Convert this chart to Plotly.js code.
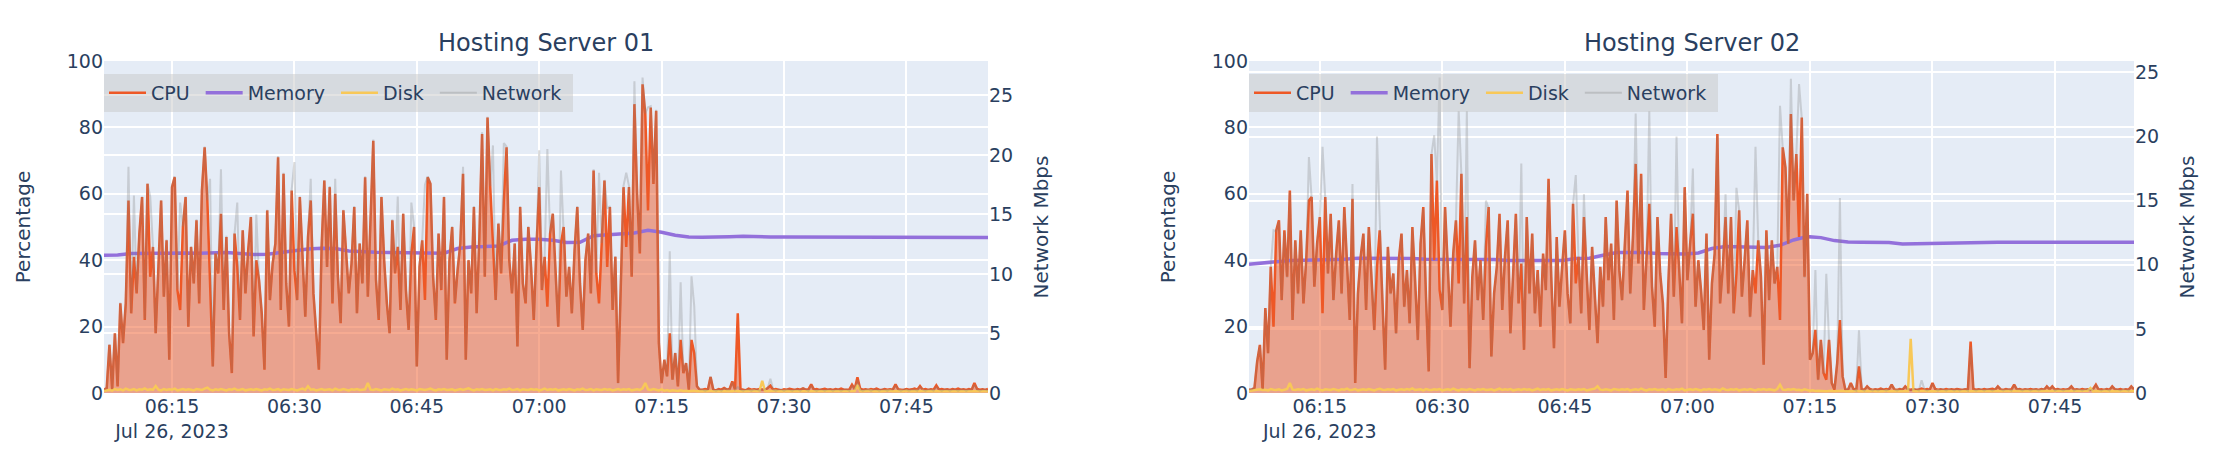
<!DOCTYPE html>
<html>
<head>
<meta charset="utf-8">
<script src="https://cdn.plot.ly/plotly-3.0.1.min.js"></script>
<style>
  body { margin: 0; background: white; }
  #chart { width: 2236px; height: 468px; }
</style>
</head>
<body>
<div id="chart"></div>
<script>
// samples every 20 s, memory every 100 s
const server1Start = '2023-07-26 06:06:40';
const server2Start = '2023-07-26 06:06:20';
const sampleStep = 20;
const memoryStep = 100;

const cpu01 = [
  1, 1.5, 14.5, 1, 18, 2, 27, 15, 27, 58,
  24, 41, 30, 48, 59, 22, 63, 35, 44, 18,
  38, 58, 29, 46, 10, 62, 65, 31, 25, 50,
  59, 20, 44, 33, 52, 27, 61, 74, 58, 30,
  8, 42, 36, 54, 25, 47, 18, 6, 48, 38,
  22, 49, 30, 43, 53, 17, 40, 34, 24, 7,
  55, 28, 39, 45, 71, 25, 66, 33, 20, 61,
  37, 28, 59, 41, 23, 47, 58, 30, 19, 7,
  44, 64, 38, 62, 27, 60, 35, 21, 55, 43,
  30, 39, 56, 24, 45, 33, 65, 29, 50, 76,
  34, 22, 59, 40, 27, 18, 52, 36, 44, 25,
  54, 31, 19, 42, 50, 8, 38, 46, 28, 65,
  63, 35, 22, 48, 31, 59, 10, 40, 50, 27,
  37, 45, 66, 10, 40, 30, 56, 24, 47, 78,
  35, 83, 62, 44, 28, 51, 36, 58, 74, 40,
  30, 45, 14, 56, 33, 27, 50, 38, 22, 44,
  62, 31, 41, 26, 48, 54, 35, 20, 45, 50,
  29, 38, 24, 43, 56, 33, 19, 40, 48, 30,
  67, 36, 27, 45, 64, 38, 56, 25, 41, 3,
  30, 62, 44, 62, 35, 87, 60, 42, 93, 84,
  55, 86, 63, 85, 15, 3, 10, 5, 18, 4,
  12, 2, 16, 6, 9, 1, 16, 12, 2, 1,
  1, 1.2, 1, 4.8, 1, 0.8, 1.2, 1, 1.5, 1,
  1.2, 3.5, 1, 24, 1.2, 1, 0.8, 1.3, 1, 1.1,
  1, 1.2, 1, 0.9, 1.5, 2.2, 1, 1.2, 1, 0.8,
  1.1, 1, 1.3, 1, 0.9, 1.2, 1, 1.4, 1, 1.1,
  2.6, 1, 1.2, 0.9, 1, 1.3, 1, 1.1, 0.9, 1.2,
  1, 1.3, 1, 1.1, 1, 2.5, 1.2, 4.7, 1.3, 1,
  1.1, 0.9, 1.2, 1, 1.3, 1, 0.9, 1.2, 1, 1.1,
  1, 2.6, 1.1, 1, 0.9, 1.2, 1, 1.1, 1.3, 1,
  2.1, 1, 1.2, 0.9, 1.1, 1, 2.3, 1, 1.2, 1,
  1.1, 0.9, 1.2, 1, 1.3, 1, 1.1, 0.9, 1.2, 1,
  3, 1.2, 1, 1.1, 0.9, 1.2
];

const network01 = [
  0.3, 0.4, 4.1, 0.3, 5.0, 0.6, 7.6, 4.2, 7.6, 19,
  6.7, 16.6, 8.4, 13.4, 16.5, 6.2, 17.6, 16.5, 12.3, 5,
  10.6, 16.2, 8.1, 12.9, 2.8, 17.4, 18.2, 8.7, 16, 14,
  16.5, 5.6, 12.3, 9.2, 14.6, 7.6, 17.1, 20.7, 16.2, 18,
  2.2, 11.8, 10.1, 18.8, 7, 13.2, 5, 1.7, 13.4, 16,
  6.2, 13.7, 8.4, 12, 14.8, 4.8, 15, 9.5, 6.7, 2,
  15.4, 7.8, 10.9, 12.6, 19.9, 7, 18.5, 9.2, 5.6, 17.1,
  19.4, 7.8, 16.5, 11.5, 6.4, 13.2, 18, 8.4, 5.3, 2,
  12.3, 17.9, 10.6, 17.4, 7.6, 18, 9.8, 5.9, 15.4, 12,
  8.4, 10.9, 15.7, 6.7, 12.6, 9.2, 18.2, 8.1, 14, 21.3,
  9.5, 6.2, 16.5, 11.2, 7.6, 5, 14.6, 10.1, 16.5, 7,
  15.1, 8.7, 5.3, 16, 14, 2.2, 10.6, 12.9, 17.5, 18.2,
  17.6, 9.8, 6.2, 13.4, 8.7, 16.5, 2.8, 11.2, 14, 7.6,
  10.4, 12.6, 19, 2.8, 11.2, 8.4, 15.7, 6.7, 13.2, 21.9,
  9.8, 23.2, 17.4, 20.8, 7.8, 14.3, 10.1, 21, 20.7, 11.2,
  8.4, 12.6, 3.9, 15.7, 9.2, 7.6, 14, 10.6, 6.2, 12.3,
  20.4, 8.7, 11.5, 20.5, 13.4, 15.1, 9.8, 5.6, 18.7, 14,
  8.1, 10.6, 6.7, 12, 15.7, 9.2, 5.3, 11.2, 13.4, 8.4,
  18.8, 10.1, 18.5, 12.6, 17.9, 15.5, 15.7, 7, 11.5, 0.8,
  8.4, 17.4, 18.5, 17.4, 9.8, 26.2, 16.8, 11.8, 26.5, 23.5,
  24, 24.1, 17.6, 23.8, 4.2, 0.8, 2.8, 1.4, 11.9, 1.1,
  3.4, 0.6, 9.3, 1.7, 2.5, 0.3, 9.8, 7.3, 0.6, 0.3,
  0.3, 0.2, 0.3, 1.4, 0.3, 0.2, 0.3, 0.2, 0.4, 0.3,
  0.3, 0.9, 0.3, 0.5, 0.3, 0.2, 0.3, 0.3, 0.2, 0.3,
  0.3, 0.2, 0.3, 0.3, 0.4, 1.2, 0.3, 0.2, 0.3, 0.3,
  0.2, 0.3, 0.3, 0.2, 0.3, 0.3, 0.2, 0.4, 0.3, 0.2,
  0.6, 0.3, 0.2, 0.3, 0.3, 0.2, 0.3, 0.3, 0.2, 0.3,
  0.3, 0.2, 0.3, 0.3, 0.2, 0.6, 0.3, 1.1, 0.3, 0.2,
  0.3, 0.3, 0.2, 0.3, 0.3, 0.2, 0.3, 0.3, 0.2, 0.3,
  0.3, 0.6, 0.3, 0.2, 0.3, 0.3, 0.2, 0.3, 0.3, 0.2,
  0.5, 0.3, 0.2, 0.3, 0.3, 0.2, 0.5, 0.3, 0.2, 0.3,
  0.3, 0.2, 0.3, 0.3, 0.2, 0.3, 0.3, 0.2, 0.3, 0.3,
  0.7, 0.3, 0.2, 0.3, 0.3, 0.2
];

const disk01 = [
  0.6, 0.8, 1, 0.7, 1.2, 0.9, 1.1, 0.8, 1.3, 1,
  0.9, 1.2, 0.8, 1.1, 1, 1.4, 0.9, 1.1, 1, 2.1,
  1, 0.8, 1.2, 0.9, 1.1, 1, 1.3, 0.8, 1, 1.2,
  0.9, 1.1, 1, 0.8, 1.2, 1, 0.9, 1.3, 1.6, 1,
  0.8, 1.1, 0.9, 1.2, 1, 0.8, 1.1, 1, 1.3, 0.9,
  1, 1.2, 0.8, 1, 1.1, 0.9, 1.2, 1, 0.8, 1.1,
  1, 1.3, 0.9, 1, 1.2, 0.8, 1.1, 1, 0.9, 1.2,
  1, 0.8, 1.1, 1.3, 0.9, 2, 1, 1.1, 0.8, 1,
  1.2, 0.9, 1, 1.1, 0.8, 1.3, 1, 0.9, 1.2, 1,
  0.8, 1.1, 1, 1.2, 0.9, 1, 1.1, 3, 1, 0.9,
  1.2, 1, 0.8, 1.1, 1, 0.9, 1.3, 1, 1.1, 0.8,
  1, 1.2, 0.9, 1.1, 1, 0.8, 1.2, 1, 0.9, 1.1,
  1.3, 1, 0.8, 1.1, 1, 1.2, 0.9, 1, 1.1, 0.8,
  1, 1.2, 0.9, 1.1, 1.4, 1, 0.8, 1.1, 1, 1.2,
  0.9, 1, 1.1, 0.8, 1.2, 1, 0.9, 1.1, 1, 1.3,
  0.9, 1, 1.2, 0.8, 1.1, 1, 0.9, 1.2, 1, 1.1,
  0.8, 1, 1.3, 0.9, 1.1, 1, 1.2, 0.8, 1, 1.1,
  0.9, 1.2, 1, 0.8, 1.1, 1, 1.3, 0.9, 1, 1.2,
  0.8, 1.1, 1, 0.9, 1.2, 1, 1.1, 0.8, 1, 1.2,
  0.9, 1.1, 1, 1.2, 0.8, 1, 1.1, 0.9, 1.4, 3,
  1.1, 0.9, 1.2, 1, 0.8, 1.1, 0.7, 0.9, 0.6, 0.8,
  0.7, 0.6, 0.8, 0.6, 0.7, 0.5, 0.6, 0.7, 0.5, 0.6,
  0.5, 0.6, 0.5, 0.7, 0.5, 0.6, 0.5, 0.5, 0.6, 0.5,
  0.6, 0.5, 0.7, 0.5, 0.6, 0.5, 0.5, 0.6, 0.5, 0.7,
  0.5, 0.6, 3.7, 0.6, 0.5, 0.6, 0.5, 0.7, 0.5, 0.6,
  0.5, 0.6, 0.5, 0.5, 0.7, 0.5, 0.6, 0.5, 0.6, 0.5,
  0.6, 0.5, 0.7, 0.5, 0.6, 0.5, 0.5, 0.6, 0.5, 0.7,
  0.5, 0.6, 0.5, 0.6, 0.5, 0.7, 0.6, 2.4, 0.6, 0.5,
  0.6, 0.5, 0.7, 0.5, 0.6, 0.5, 0.5, 0.6, 0.5, 0.7,
  0.5, 0.6, 0.5, 0.6, 0.5, 0.7, 0.5, 0.6, 0.5, 0.6,
  0.5, 0.7, 0.5, 0.6, 0.5, 0.6, 0.5, 0.5, 0.7, 0.5,
  0.6, 0.5, 0.6, 0.5, 0.7, 0.5, 0.6, 0.5, 0.6, 0.5,
  0.6, 0.5, 0.7, 0.5, 0.6, 0.5
];

const memory01 = [
  41.5, 41.6, 42.0, 42.1, 42.1, 42.2, 42.2, 42.1, 42.2, 42.3,
  42.0, 41.7, 41.8, 42.3, 42.8, 43.4, 43.6, 43.5, 42.8, 42.5,
  42.4, 42.3, 42.3, 42.2, 42.1, 42.1, 43.5, 44.0, 44.1, 44.3,
  46.0, 46.3, 46.3, 46.0, 45.3, 45.4, 47.4, 47.6, 47.8, 48.2,
  49.0, 48.4, 47.5, 47.0, 46.9, 46.9, 47.1, 47.2, 47.0, 47.0,
  47.0, 47.0, 46.9, 46.9, 46.9, 46.9, 46.9, 46.9, 46.9, 46.8,
  46.8, 46.8, 46.8, 46.8, 46.8, 46.8
];

const cpu02 = [
  1, 1, 1.5, 9.5, 14.5, 1, 25.6, 12, 38, 20,
  49, 52, 28, 49, 35, 61, 22, 46, 30, 49,
  27, 40, 58, 59, 32, 45, 53, 24, 59, 36,
  54, 28, 42, 52, 30, 56, 39, 22, 58.5, 3,
  30, 41, 48, 25, 50, 33, 19, 38, 49, 28,
  7, 44, 30, 36, 18, 40, 48, 26, 37, 21,
  50, 34, 16, 45, 56, 29, 6.5, 72, 40, 64,
  31, 25, 56, 38, 20, 42, 52, 33, 66, 27,
  53, 7.5, 35, 46, 28, 40, 22, 44, 56, 11,
  30, 38, 54, 25, 41, 52, 18, 36, 54, 27,
  39, 13, 53, 30, 48, 24, 37, 20, 42, 31,
  64.5, 35, 13.5, 47, 26, 38, 49, 30, 21, 57,
  33, 41, 24, 53, 36, 19, 44, 29, 15, 38,
  26, 53, 34, 45, 22, 58, 37, 28, 43, 61,
  30, 47, 69, 39, 66, 25, 41, 57, 32, 20,
  53, 36, 27, 4.5, 33, 54, 29, 50, 37, 21,
  62, 34, 45, 54, 26, 40, 31, 19, 48, 10,
  33, 42, 78, 27, 38, 53, 30, 53, 24, 36,
  55, 29, 40, 52, 23, 37, 30, 46, 35, 8.5,
  49, 28, 46, 33, 38, 22, 74, 68, 45, 84,
  58, 72, 47, 83, 35, 60, 10, 12, 19, 4,
  16, 6, 4, 16, 3, 1, 9, 22, 5, 1,
  1, 3, 1.2, 1, 8, 1.1, 1, 2, 1.2, 0.9,
  1.1, 1, 1.3, 1, 1.2, 1, 2.5, 1.1, 0.9, 1.2,
  1, 2, 1.1, 1, 1.2, 0.9, 1.1, 1.3, 1, 1.2,
  1, 3, 1.2, 1, 1.1, 0.9, 1.2, 1, 1.1, 1,
  1.2, 1, 0.9, 1.1, 1, 15.5, 1.2, 1, 1.1, 0.9,
  1.2, 1, 1.1, 1.3, 1, 2, 1.1, 0.9, 1.2, 1,
  1.1, 2.5, 1, 1.2, 0.9, 1.1, 1, 1.2, 1, 1.1,
  0.9, 1.2, 1, 2, 1.1, 2, 1, 1.2, 0.9, 1.1,
  1, 1.2, 2, 1, 1.1, 0.9, 1.2, 1, 1.1, 1,
  1.2, 2.5, 1, 1.1, 0.9, 1.2, 1, 2, 1.1, 1,
  1.2, 0.9, 1.1, 1, 2, 1.1
];

const network02 = [
  0.3, 0.3, 0.4, 2.5, 3.7, 0.3, 6.6, 3.1, 9.8, 12.7,
  12.6, 13.4, 7.2, 12.6, 9, 15.7, 5.7, 11.9, 7.7, 12.6,
  7, 10.3, 18.4, 15.2, 8.3, 11.6, 13.7, 19.2, 15.2, 9.3,
  13.9, 7.2, 10.8, 13.4, 7.7, 14.4, 10.1, 5.7, 16.3, 0.8,
  7.7, 10.6, 12.4, 6.5, 12.9, 8.5, 4.9, 20, 12.6, 7.2,
  1.8, 11.4, 7.7, 9.3, 4.6, 10.3, 12.4, 6.7, 9.5, 5.4,
  12.9, 8.8, 4.1, 11.6, 14.4, 7.5, 1.7, 18.6, 20.1, 16.5,
  24.6, 6.5, 14.4, 9.8, 5.2, 10.8, 13.4, 22, 17, 7,
  22, 1.9, 9, 11.9, 7.2, 10.3, 5.7, 15, 14.4, 2.8,
  7.7, 9.8, 13.9, 6.5, 10.6, 13.4, 4.6, 9.3, 13.9, 7,
  17.9, 3.4, 13.7, 7.7, 12.4, 6.2, 9.5, 5.2, 10.8, 8,
  16.6, 9, 3.5, 12.1, 6.7, 9.8, 12.6, 7.7, 5.4, 14.7,
  17, 10.6, 6.2, 15.5, 9.3, 4.9, 11.4, 7.5, 3.9, 9.8,
  6.7, 13.7, 8.8, 11.6, 5.7, 15, 9.5, 7.2, 11.1, 15.7,
  7.7, 12.1, 21.8, 10.1, 17, 6.5, 10.6, 22, 8.3, 5.2,
  13.7, 9.3, 7, 1.2, 8.5, 13.9, 7.5, 20, 9.5, 5.4,
  16, 8.8, 11.6, 17.5, 6.7, 10.3, 8, 4.9, 12.4, 2.6,
  8.5, 10.8, 20.1, 7, 9.8, 15.5, 7.7, 13.7, 6.2, 16,
  14.2, 7.5, 10.3, 13.4, 5.9, 9.5, 19.2, 11.9, 9, 2.2,
  12.6, 7.2, 11.9, 8.5, 9.8, 22.4, 19.1, 17.5, 11.6, 24.5,
  15, 18.6, 24.1, 21.4, 9, 15.5, 2.6, 3.1, 9.6, 1,
  4.1, 1.5, 9.3, 4.1, 0.8, 0.3, 2.3, 15.2, 1.3, 0.3,
  0.3, 0.7, 0.3, 0.2, 4.9, 0.3, 0.2, 0.5, 0.3, 0.2,
  0.3, 0.2, 0.3, 0.3, 0.2, 0.3, 0.6, 0.3, 0.2, 0.3,
  0.3, 0.5, 0.3, 0.2, 0.3, 0.3, 0.2, 1.0, 0.3, 0.2,
  0.3, 0.7, 0.3, 0.2, 0.3, 0.3, 0.2, 0.3, 0.3, 0.2,
  0.3, 0.2, 0.3, 0.3, 0.2, 3.6, 0.3, 0.2, 0.3, 0.3,
  0.2, 0.3, 0.3, 0.2, 0.3, 0.5, 0.3, 0.2, 0.3, 0.3,
  0.2, 0.6, 0.3, 0.3, 0.2, 0.3, 0.3, 0.2, 0.3, 0.3,
  0.2, 0.3, 0.3, 0.5, 0.3, 0.5, 0.2, 0.3, 0.3, 0.2,
  0.3, 0.3, 0.5, 0.2, 0.3, 0.3, 0.2, 0.3, 0.3, 0.2,
  0.3, 0.6, 0.3, 0.2, 0.3, 0.3, 0.2, 0.5, 0.3, 0.3,
  0.2, 0.3, 0.3, 0.2, 0.5, 0.3
];

const disk02 = [
  0.6, 0.7, 0.9, 0.8, 1.1, 0.9, 1, 0.8, 1.2, 1,
  0.9, 1.1, 0.8, 1, 1.2, 3, 1, 0.9, 1.1, 1,
  1.2, 0.8, 1, 1.1, 0.9, 1.3, 1, 0.8, 1.1, 1,
  0.9, 1.2, 1, 0.8, 1.1, 1, 1.3, 0.9, 1, 1.2,
  0.8, 1, 1.1, 0.9, 1.2, 1, 0.8, 1.1, 1.3, 1,
  0.9, 1.1, 1, 1.2, 0.8, 1, 1.1, 0.9, 1.2, 1,
  1.4, 0.9, 1, 1.1, 0.8, 1.2, 1, 0.9, 1.1, 1,
  1.2, 0.8, 1, 1.1, 0.9, 1.3, 1, 0.8, 1.1, 1,
  0.9, 1.2, 1, 0.8, 1.1, 1, 1.2, 0.9, 1, 1.1,
  0.8, 1, 1.3, 0.9, 1.1, 1, 1.2, 0.8, 1, 1.1,
  0.9, 1.2, 1, 1.1, 0.8, 1, 1.3, 0.9, 1.1, 1,
  1.2, 0.8, 1, 1.1, 0.9, 1.2, 1, 0.8, 1.1, 1,
  0.9, 1.1, 1, 1.2, 0.8, 1, 1.1, 1.3, 2, 1,
  0.9, 1.1, 1, 0.8, 1.2, 1, 0.9, 1.1, 1, 1.2,
  0.8, 1, 1.1, 0.9, 1.3, 1, 0.8, 1.1, 1, 1.2,
  0.9, 1, 1.1, 0.8, 1.2, 1, 0.9, 1.1, 1, 1.3,
  0.8, 1, 1.1, 0.9, 1.2, 1, 0.8, 1.1, 1, 1.2,
  0.9, 1.1, 1, 0.8, 1.4, 1, 0.9, 1.1, 1, 1.2,
  0.8, 1, 1.1, 0.9, 1.2, 1, 0.8, 1.1, 1, 1.2,
  0.9, 1.1, 1, 0.8, 1.2, 2.5, 1, 0.9, 1.1, 1,
  1.2, 0.9, 1, 0.8, 1.1, 0.9, 0.7, 0.8, 0.6, 0.7,
  0.6, 0.7, 0.5, 0.6, 0.7, 0.5, 0.6, 0.5, 0.7, 0.5,
  0.6, 0.5, 0.5, 0.7, 0.5, 0.6, 0.5, 0.6, 0.5, 0.7,
  0.5, 0.6, 0.5, 0.5, 0.7, 0.5, 0.6, 0.5, 0.6, 0.5,
  0.5, 0.6, 0.5, 16.3, 0.6, 0.5, 0.6, 0.5, 0.7, 0.5,
  0.6, 0.5, 0.5, 0.7, 0.5, 0.6, 0.5, 0.6, 0.5, 0.5,
  0.7, 0.5, 0.6, 0.5, 0.5, 0.6, 0.5, 0.7, 0.5, 0.6,
  0.5, 0.5, 0.6, 0.7, 0.5, 0.6, 0.5, 0.5, 0.6, 0.5,
  0.7, 0.5, 0.6, 0.5, 0.5, 0.6, 0.5, 0.7, 0.5, 0.6,
  0.5, 0.5, 0.6, 0.5, 0.7, 0.5, 0.6, 0.5, 0.5, 0.6,
  0.5, 0.7, 0.5, 0.6, 0.5, 0.5, 0.6, 0.5, 0.7, 1.5,
  0.5, 0.6, 0.5, 0.5, 0.7, 0.5, 0.6, 0.5, 0.6, 0.5,
  0.5, 0.7, 0.5, 0.6, 0.5, 0.6
];

const memory02 = [
  38.8, 39.2, 39.6, 39.9, 40.0, 40.1, 40.1, 40.3, 40.6, 40.6,
  40.6, 40.6, 40.5, 40.3, 40.3, 40.3, 40.2, 40.3, 40.2, 39.9,
  39.9, 39.9, 39.8, 39.9, 40.5, 40.6, 41.5, 42.3, 42.3, 42.3,
  42.0, 41.9, 41.9, 42.2, 43.5, 44.1, 44.0, 43.9, 43.8, 44.5,
  46.1, 47.1, 46.8, 45.9, 45.5, 45.4, 45.4, 45.3, 44.9, 45.0,
  45.1, 45.2, 45.3, 45.4, 45.4, 45.4, 45.4, 45.4, 45.4, 45.4,
  45.4, 45.4, 45.4, 45.4, 45.4, 45.4
];

const serverTitles = ['Hosting Server 01', 'Hosting Server 02'];
// a trailing nbsp widens each legend entry like the original
const seriesNames = ['CPU', 'Memory', 'Disk', 'Network'].map(n => n + '\u00a0');

const colors = {
    cpu: 'rgb(238,88,38)',
    cpuFill: 'rgba(238,88,38,0.5)',
    memory: 'mediumpurple',
    disk: 'rgb(248,200,88)',
    network: 'rgba(128,128,128,0.3)'
};

function makeTimes(start, count, stepSec) {
    const base = new Date(start.replace(' ', 'T') + 'Z').getTime();
    const times = [];
    for (let i = 0; i < count; i++) {
        times.push(new Date(base + i * stepSec * 1000).toISOString().replace('T', ' ').slice(0, 19));
    }
    return times;
}

function serverTraces(start, cpu, memory, disk, network, xa, ya, ya2, legend) {
    const t = makeTimes(start, cpu.length, sampleStep);
    const tm = makeTimes(start, memory.length, memoryStep);
    return [
        // shaded area under CPU, kept out of the legend
        { x: t, y: cpu, type: 'scatter', mode: 'lines', xaxis: xa, yaxis: ya,
          fill: 'tozeroy', fillcolor: colors.cpuFill, line: { width: 0 },
          showlegend: false, hoverinfo: 'skip' },
        { x: tm, y: memory, name: seriesNames[1], type: 'scatter', mode: 'lines', xaxis: xa, yaxis: ya,
          line: { color: colors.memory, width: 3.5 }, legend: legend, legendrank: 2 },
        { x: t, y: cpu, name: seriesNames[0], type: 'scatter', mode: 'lines', xaxis: xa, yaxis: ya,
          line: { color: colors.cpu, width: 2.5 }, legend: legend, legendrank: 1 },
        { x: t, y: disk, name: seriesNames[2], type: 'scatter', mode: 'lines', xaxis: xa, yaxis: ya,
          line: { color: colors.disk, width: 2.5 }, legend: legend, legendrank: 3 },
        { x: t, y: network, name: seriesNames[3], type: 'scatter', mode: 'lines', xaxis: xa, yaxis: ya2,
          line: { color: colors.network, width: 2 }, legend: legend, legendrank: 4 }
    ];
}

const data = [
    ...serverTraces(server1Start, cpu01, memory01, disk01, network01, 'x', 'y', 'y2', 'legend'),
    ...serverTraces(server2Start, cpu02, memory02, disk02, network02, 'x2', 'y3', 'y4', 'legend2')
];

const W = 2236, H = 468;
const yDomain = [1 - 393 / H, 1 - 61 / H];
const x1Domain = [104 / W, 988 / W];
const x2Domain = [1249 / W, 2134 / W];

const xCommon = {
    type: 'date',
    tick0: '2023-07-26 06:00:00',
    dtick: 15 * 60 * 1000,
    gridcolor: 'white',
    gridwidth: 1.5,
    zeroline: false,
    tickfont: { size: 19 }
};
const yLeft = {
    range: [0, 100],
    dtick: 20,
    gridcolor: 'white',
    gridwidth: 1.5,
    zeroline: false,
    tickfont: { size: 19 },
    title: { text: 'Percentage', font: { size: 20 }, standoff: 30 }
};
const yRight = {
    side: 'right',
    rangemode: 'tozero',
    gridcolor: 'white',
    gridwidth: 1.5,
    zeroline: false,
    tickfont: { size: 19 },
    title: { text: 'Network Mbps', font: { size: 20 } }
};
const legendCommon = {
    orientation: 'h',
    xanchor: 'left',
    yanchor: 'top',
    y: 1 - 74 / H,
    itemwidth: 37,
    bgcolor: 'rgba(200,200,200,0.5)',
    font: { size: 19 }
};

const layout = {
    width: W,
    height: H,
    margin: { l: 0, r: 0, t: 0, b: 0 },
    paper_bgcolor: 'white',
    plot_bgcolor: '#E5ECF6',
    font: { family: 'DejaVu Sans, Verdana, sans-serif', color: '#2a3f5f', size: 19 },
    xaxis: { ...xCommon, domain: x1Domain, anchor: 'y' },
    yaxis: { ...yLeft, domain: yDomain, anchor: 'x' },
    yaxis2: { ...yRight, overlaying: 'y', anchor: 'x' },
    xaxis2: { ...xCommon, domain: x2Domain, anchor: 'y3' },
    yaxis3: { ...yLeft, domain: yDomain, anchor: 'x2' },
    yaxis4: { ...yRight, overlaying: 'y3', anchor: 'x2' },
    legend: { ...legendCommon, x: x1Domain[0] },
    legend2: { ...legendCommon, x: x2Domain[0] },
    annotations: serverTitles.map((text, i) => {
        const d = i === 0 ? x1Domain : x2Domain;
        return {
            text: text, xref: 'paper', yref: 'paper',
            x: (d[0] + d[1]) / 2, y: 1 - 43 / H,
            xanchor: 'center', yanchor: 'middle',
            showarrow: false, font: { size: 24 }
        };
    })
};

Plotly.newPlot('chart', data, layout, { displayModeBar: false });
</script>
</body>
</html>
